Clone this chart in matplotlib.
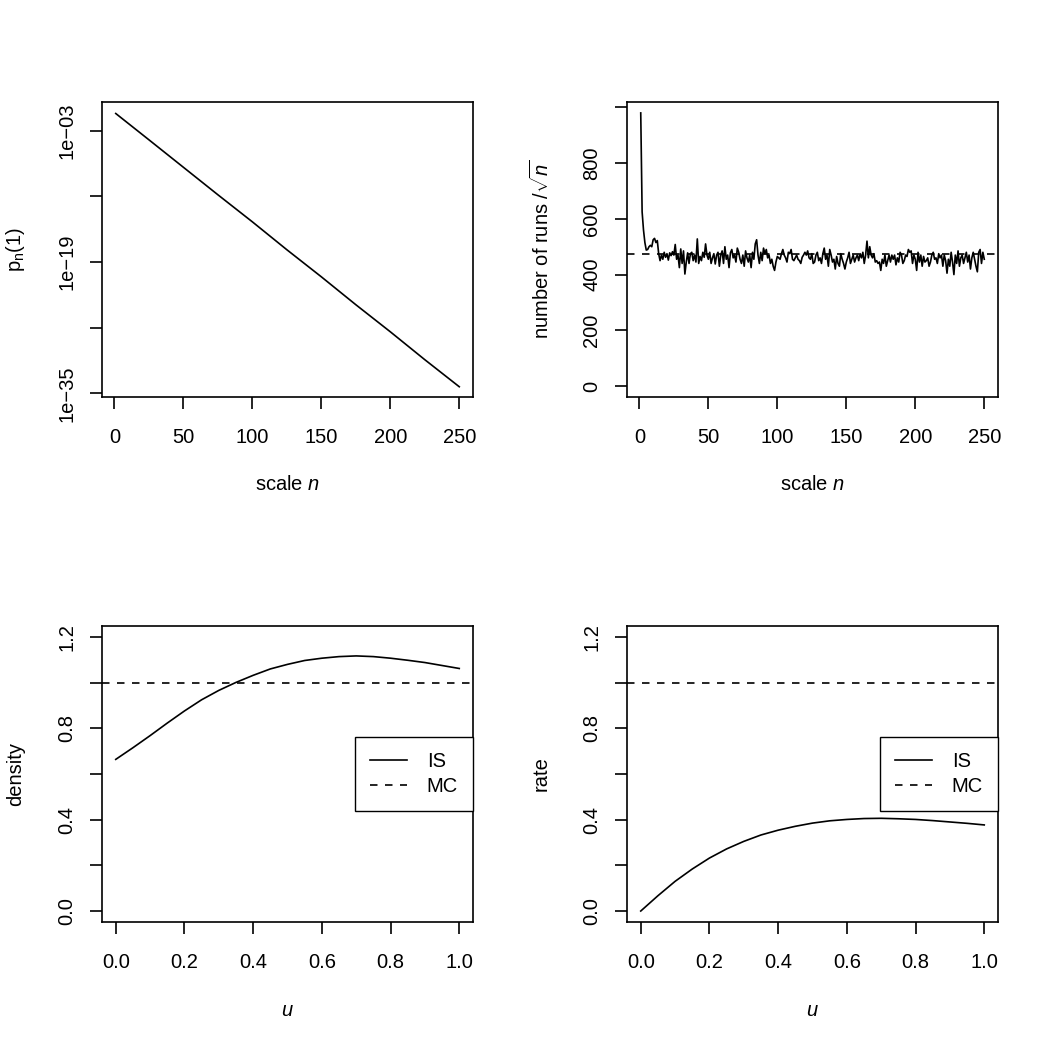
import numpy as np
import matplotlib
matplotlib.use('Agg')
import matplotlib.pyplot as plt
from matplotlib.ticker import NullLocator

plt.rcParams['font.family'] = ['Liberation Sans', 'DejaVu Sans']
plt.rcParams['font.size'] = 14.5
plt.rcParams['mathtext.fontset'] = 'custom'
plt.rcParams['mathtext.rm'] = 'Liberation Sans'
plt.rcParams['mathtext.it'] = 'Liberation Sans:italic'
plt.rcParams['mathtext.sf'] = 'Liberation Sans'

scale_pts = [1, 25, 50, 75, 100, 125, 150, 175, 200, 225, 250]
log10_p = [-0.9, -4.1, -7.45, -10.8, -14.1, -17.5, -20.8, -24.2, -27.5, -30.9, -34.2]

# top right: number of runs / sqrt(n), n = 1..250
runs = [980, 625, 560, 515, 488, 490, 500, 505, 500, 525,
        530, 515, 522, 475, 450, 470, 455, 480, 462, 475,
        452, 478, 468, 482, 470, 508, 455, 470, 425, 492,
        440, 485, 402, 445, 478, 440, 475, 480, 450, 470,
        445, 528, 440, 465, 450, 480, 462, 510, 470, 455,
        480, 440, 460, 475, 438, 470, 480, 430, 470, 485,
        440, 500, 455, 470, 425, 478, 490, 460, 470, 445,
        495, 480, 455, 440, 470, 430, 485, 460, 445, 470,
        425, 480, 455, 510, 525, 470, 440, 480, 450, 495,
        475, 490, 460, 470, 440, 455, 430, 415, 445, 465,
        460, 455, 475, 490, 470, 460, 445, 480, 475, 490,
        455, 450, 460, 470, 455, 450, 440, 462, 470, 480,
        470, 485, 460, 455, 475, 440, 445, 470, 480, 450,
        460, 440, 475, 495, 455, 470, 430, 490, 470, 445,
        455, 420, 465, 440, 430, 475, 455, 440, 420, 445,
        460, 480, 440, 455, 470, 445, 460, 470, 450, 475,
        460, 480, 440, 470, 520, 460, 500, 470, 460, 475,
        445, 450, 440, 445, 415, 455, 440, 470, 430, 450,
        470, 445, 470, 455, 470, 435, 460, 445, 480, 470,
        440, 450, 470, 465, 490, 480, 485, 440, 470, 455,
        415, 480, 445, 470, 430, 465, 445, 450, 460, 430,
        445, 470, 480, 455, 460, 440, 475, 460, 470, 430,
        470, 450, 405, 455, 430, 480, 445, 400, 470, 440,
        485, 430, 460, 470, 440, 460, 480, 445, 470, 420,
        460, 480, 455, 430, 410, 480, 490, 440, 480, 455]
runs_ref = 474

# bottom: importance sampling density and rate vs plain MC
u_pts = [0.0, 0.05, 0.1, 0.15, 0.2, 0.25, 0.3, 0.35, 0.4, 0.45, 0.5,
         0.55, 0.6, 0.65, 0.7, 0.75, 0.8, 0.85, 0.9, 0.95, 1.0]
density_is = [0.664, 0.715, 0.768, 0.823, 0.876, 0.925, 0.966, 1.001, 1.032, 1.060, 1.080,
              1.097, 1.107, 1.114, 1.117, 1.114, 1.107, 1.098, 1.088, 1.075, 1.062]
rate_is = [0.0, 0.067, 0.130, 0.184, 0.232, 0.272, 0.305, 0.333, 0.354, 0.371, 0.385,
           0.395, 0.401, 0.405, 0.406, 0.404, 0.401, 0.396, 0.390, 0.384, 0.377]
mc_level = 1.0

W = H = 1050
LW = 1.2
DASH = (4.5, 4.5)


def panel(fig, left, top, right, bottom):
    return fig.add_axes([left / W, 1 - bottom / H, (right - left) / W, (bottom - top) / H])


def r_style(ax, xlab, ylab):
    for s in ax.spines.values():
        s.set_linewidth(1.2)
    ax.tick_params(direction='out', length=8.6, width=1.2)
    ax.tick_params(axis='x', pad=14)
    ax.tick_params(axis='y', pad=10, labelrotation=90)
    plt.setp(ax.get_yticklabels(), va='center')
    ax.set_xlabel(xlab)
    ax.set_ylabel(ylab)
    ax.xaxis.set_label_coords(0.5, -0.298)
    ax.yaxis.set_label_coords(-0.232, 0.5)
    ax.xaxis.label.set_va('center')
    ax.yaxis.label.set_va('center')


def main():
    fig = plt.figure(figsize=(10.5, 10.5), dpi=100)

    # p_n(1)
    ax = panel(fig, 102, 102, 473, 397)
    ax.plot(scale_pts, [10 ** v for v in log10_p], color='black', lw=LW)
    ax.set_yscale('log')
    ax.set_xlim(-8.96, 259.96)
    ax.set_ylim(10 ** -35.45, 10 ** 0.5)
    ax.set_xticks([0, 50, 100, 150, 200, 250])
    ax.set_yticks([1e-3, 1e-11, 1e-19, 1e-27, 1e-35],
                  ['1e\u221203', '', '1e\u221219', '', '1e\u221235'])
    ax.yaxis.set_minor_locator(NullLocator())
    r_style(ax, 'scale $n$', r'$\mathrm{p_n(1)}$')

    # runs
    ax = panel(fig, 627, 102, 998, 397)
    n = np.arange(1, len(runs) + 1)
    ax.plot(n, runs, color='black', lw=LW)
    ax.axhline(runs_ref, color='black', lw=LW, dashes=DASH)
    ax.set_xlim(-8.96, 259.96)
    ax.set_ylim(-39.2, 1019.2)
    ax.set_xticks([0, 50, 100, 150, 200, 250])
    ax.set_yticks([0, 200, 400, 600, 800, 1000], ['0', '200', '400', '600', '800', ''])
    r_style(ax, 'scale $n$', r'number of runs /$\sqrt{n}$')

    # density and rate
    for left, right, vals, ylab in [(102, 473, density_is, 'density'),
                                    (627, 998, rate_is, 'rate')]:
        ax = panel(fig, left, 626, right, 922)
        ax.plot(u_pts, vals, color='black', lw=LW, label='IS')
        ax.axhline(mc_level, color='black', lw=LW, dashes=DASH, label='MC')
        ax.set_xlim(-0.04, 1.04)
        ax.set_ylim(-0.048, 1.248)
        ax.set_xticks([0, 0.2, 0.4, 0.6, 0.8, 1.0])
        ax.set_yticks([0, 0.2, 0.4, 0.6, 0.8, 1.0, 1.2],
                      ['0.0', '', '0.4', '', '0.8', '', '1.2'])
        r_style(ax, '$u$', ylab)
        leg = ax.legend(loc='center right', bbox_to_anchor=(1.0, 0.5), borderaxespad=0,
                        fancybox=False, framealpha=1, edgecolor='black',
                        borderpad=0.75, handlelength=1.8, handletextpad=1.0,
                        labelspacing=0.3)
        leg.get_frame().set_linewidth(1.0)

    fig.savefig('out.png', dpi=100)


if __name__ == "__main__":
    main()
